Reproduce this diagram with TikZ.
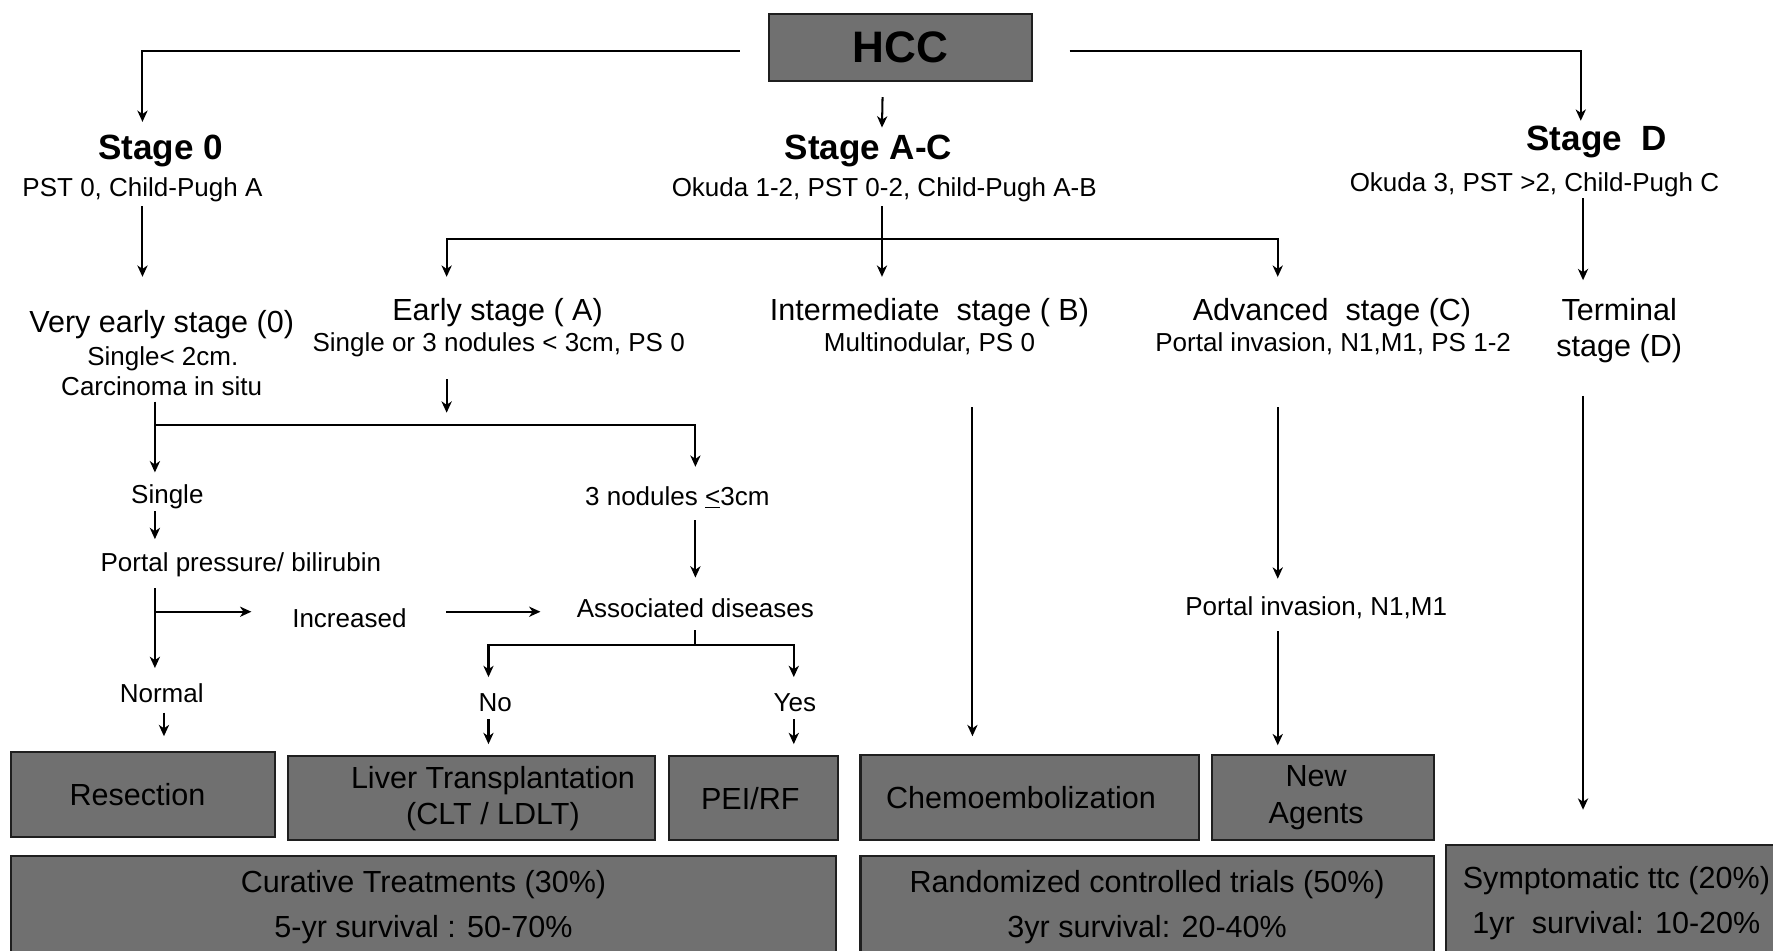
\documentclass[tikz,border=0pt]{standalone}
\usepackage{fontspec}
\setmainfont{Liberation Sans}
\usetikzlibrary{arrows.meta}
\definecolor{boxfill}{gray}{0.44}
\definecolor{boxline}{gray}{0.12}
\tikzset{
  conn/.style={line width=1.8pt},
  arr/.style={conn,-{Stealth[length=10pt,width=9pt,inset=3pt]}},
  hbig/.style={font=\bfseries\fontsize{39}{44}\selectfont},
  stg/.style={font=\bfseries\fontsize{31}{36}\selectfont,inner sep=0pt,text height=23pt,text depth=7pt,yshift=-3pt},
  mid/.style={font=\fontsize{27}{32}\selectfont,inner sep=0pt,text height=20pt,text depth=6pt,yshift=-3pt},
  sml/.style={font=\fontsize{23}{27}\selectfont,inner sep=0pt,text height=17pt,text depth=5pt,yshift=-3pt},
  tbox/.style={draw=boxline,fill=boxfill,line width=1.8pt,inner sep=0pt,align=center,font=\fontsize{27}{32}\selectfont},
  rbox/.style={tbox,font=\fontsize{27}{40}\selectfont}
}
\begin{document}
\begin{tikzpicture}[x=1pt,y=-1pt]
\useasboundingbox (0,0) rectangle (1568,841);
\clip (0,0) rectangle (1568,841);
\node[tbox,hbig,minimum width=233pt,minimum height=60pt] (hcc) at (796.5,42) {HCC};
\node[stg] (stage0) at (142,130) {Stage 0};
\node[stg] (stageac) at (768,130) {Stage A-C};
\node[stg] (staged) at (1412,122) {Stage~~D};
\foreach \n/\p/\t in {vearly/{143,284}/{Very early stage (0)},early/{440,273}/{Early stage ( A)},
  inter/{822,273}/{Intermediate~~stage ( B)},adv/{1178,273}/{Advanced~~stage (C)},
  term/{1432,273}/{Terminal},term2/{1432,305}/{stage (D)}}
  \node[mid] (\n) at (\p) {\t};
\foreach \n/\p/\t in {pst0/{126,165}/{PST 0, Child-Pugh A},okac/{782,165}/{Okuda 1-2, PST 0-2, Child-Pugh A-B},
  okd/{1357,160}/{Okuda 3, PST >2, Child-Pugh C},vearlya/{144,314}/{Single< 2cm.},
  vearlyb/{143,341}/{Carcinoma in situ},earlysub/{441,302}/{Single or 3 nodules < 3cm, PS 0},
  intersub/{822,302}/{Multinodular, PS 0},advsub/{1179,302}/{Portal invasion, N1,M1, PS 1-2},
  single/{148,436}/{Single},portal/{213,496}/{Portal pressure/ bilirubin},incr/{309,546}/{Increased},
  normal/{143,612}/{Normal},nod3/{599,438}/{3 nodules \underline{<}3cm},assoc/{615,537}/{Associated diseases},
  no/{438,620}/{No},yes/{703,620}/{Yes},pinv/{1164,535}/{Portal invasion, N1,M1}}
  \node[sml] (\n) at (\p) {\t};
\node[tbox,minimum width=233pt,minimum height=75pt] (resect) at (126.5,702.5) {\hspace*{-10pt}Resection};
\node[tbox,minimum width=324pt,minimum height=74pt] (lt) at (417,706) {\hspace*{38pt}Liver Transplantation\\\hspace*{38pt}(CLT / LDLT)};
\node[tbox,minimum width=149pt,minimum height=74pt] (pei) at (666.5,706) {\hspace*{-6pt}PEI/RF};
\node[tbox,minimum width=299pt,minimum height=75pt] (chemo) at (910.5,705.5) {\hspace*{-15pt}Chemoembolization};
\node[tbox,minimum width=196pt,minimum height=75pt] (newag) at (1170,705.5) {\hspace*{-12pt}New\\\hspace*{-12pt}Agents};
\node[rbox,minimum width=729pt,minimum height=90pt] (cur) at (374.5,802) {Curative Treatments (30\%)\\5-yr survival : 50-70\%};
\node[rbox,minimum width=507pt,minimum height=90pt] (rct) at (1014.5,802) {Randomized controlled trials (50\%)\\3yr survival: 20-40\%};
\node[rbox,minimum width=301pt,minimum height=104pt] (symp) at (1429.5,799) {Symptomatic ttc (20\%)\\1yr~~survival: 10-20\%};
\coordinate (acj) at (780,211);
\coordinate (earlyin) at (395,365);
\coordinate (vj) at (137,376);
\coordinate (pj) at (137,541);
\coordinate (aj) at (615,570);
\draw[arr] ([xshift=-25pt,yshift=-3pt]hcc.west) -| ([xshift=-16pt,yshift=10pt]stage0.north);
\draw[arr] ([xshift=32pt,yshift=-3pt]hcc.east) -| ([xshift=-14pt,yshift=3pt]staged.north);
\draw[arr] ([xshift=-16pt,yshift=-13pt]hcc.south) -- ([xshift=12pt,yshift=5pt]stageac.north);
\draw[arr] ([yshift=-3pt]pst0.south) -- ([xshift=-17pt,yshift=29pt]vearly.north);
\draw[arr] ([xshift=-2pt,yshift=-3pt]okac.south) -- ([xshift=-42pt,yshift=18pt]inter.north);
\draw[arr] (acj) -| ([xshift=-45pt,yshift=18pt]early.north);
\draw[arr] (acj) -| ([xshift=-48pt,yshift=18pt]adv.north);
\draw[arr] ([xshift=43pt,yshift=-1pt]okd.south) -- ([xshift=-32pt,yshift=15pt]term.north);
\draw[arr] ([xshift=-46pt,yshift=-19pt]earlysub.south) -- (earlyin);
\draw[arr] ([xshift=-6pt,yshift=0pt]vearlyb.south) -- ([xshift=-11pt,yshift=10pt]single.north);
\draw[arr] (vj) -| ([xshift=16pt,yshift=17pt]nod3.north);
\draw[arr] ([xshift=-11pt,yshift=-2pt]single.south) -- ([xshift=-76pt,yshift=11pt]portal.north);
\draw[arr] ([xshift=-76pt,yshift=-10pt]portal.south) -- ([xshift=-6pt,yshift=13pt]normal.north);
\draw[arr] (pj) -- ([xshift=-36pt,yshift=8pt]incr.west);
\draw[arr] ([xshift=35pt,yshift=8pt]incr.east) -- ([xshift=-32pt,yshift=-1pt]assoc.west);
\draw[arr] ([xshift=16pt,yshift=-8pt]nod3.south) -- ([yshift=18pt]assoc.north);
\draw[conn] ([yshift=-6pt]assoc.south) -- (aj);
\draw[arr] (aj) -| ([xshift=-6pt,yshift=13pt]no.north);
\draw[arr] (aj) -| ([xshift=-1pt,yshift=13pt]yes.north);
\draw[arr] ([xshift=2pt,yshift=-4pt]normal.south) -- ([xshift=18.5pt,yshift=13pt]resect.north);
\draw[arr] ([xshift=-6pt,yshift=-2pt]no.south) -- ([xshift=15pt,yshift=10pt]lt.north);
\draw[arr] ([xshift=-1pt,yshift=-2pt]yes.south) -- ([xshift=35.5pt,yshift=10pt]pei.north);
\draw[arr] ([xshift=38pt,yshift=-44pt]intersub.south) -- ([xshift=-50.5pt,yshift=16pt]chemo.north);
\draw[arr] ([xshift=-49pt,yshift=-44pt]advsub.south) -- ([xshift=-34pt,yshift=15pt]pinv.north);
\draw[arr] ([xshift=-34pt,yshift=-9pt]pinv.south) -- ([xshift=-40pt,yshift=8pt]newag.north);
\draw[arr] ([xshift=-32pt,yshift=-29pt]term2.south) -- ([xshift=-29.5pt,yshift=30pt]symp.north);
\end{tikzpicture}
\end{document}
